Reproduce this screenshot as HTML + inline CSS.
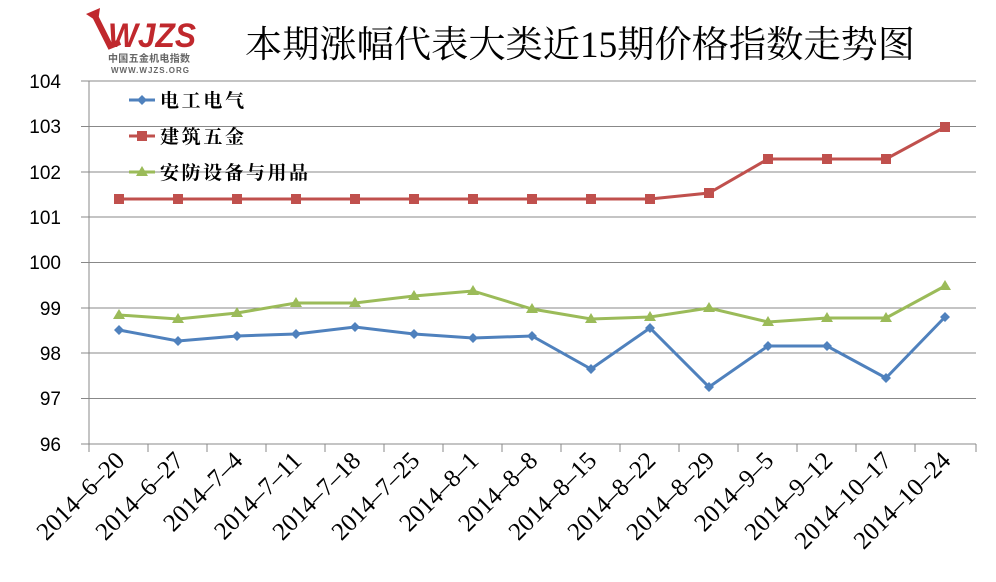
<!DOCTYPE html><html><head><meta charset="utf-8"><style>body{margin:0;background:#fff}svg{display:block}</style></head><body>
<svg width="996" height="582" xmlns="http://www.w3.org/2000/svg">
<rect width="996" height="582" fill="#fff"/>
<!-- logo -->
<path d="M86 14 L100 8 L98 22 Z" fill="#c0282d"/>
<path d="M95 16 L110 46 L120 42" stroke="#c0282d" stroke-width="6" fill="none"/>
<text x="108" y="47" font-family="Liberation Sans, sans-serif" font-size="34" font-weight="bold" font-style="italic" fill="#c0282d" textLength="88" lengthAdjust="spacingAndGlyphs">WJZS</text>
<text x="108" y="62" font-family="Liberation Sans, Noto Sans CJK SC, sans-serif" font-size="10" font-weight="bold" fill="#666" textLength="82">中国五金机电指数</text>
<text x="111" y="73" font-family="Liberation Sans, sans-serif" font-size="8" font-weight="bold" fill="#666" textLength="78">WWW.WJZS.ORG</text>
<text x="245" y="57" font-family="Liberation Serif, Noto Serif CJK SC, serif" font-size="37" fill="#000" textLength="670" lengthAdjust="spacingAndGlyphs">本期涨幅代表大类近15期价格指数走势图</text>
<!-- grid -->
<g stroke="#888" stroke-width="1">
<line x1="81" y1="81" x2="976" y2="81"/><line x1="81" y1="126.5" x2="976" y2="126.5"/><line x1="81" y1="172" x2="976" y2="172"/><line x1="81" y1="217" x2="976" y2="217"/><line x1="81" y1="262.5" x2="976" y2="262.5"/><line x1="81" y1="308" x2="976" y2="308"/><line x1="81" y1="353" x2="976" y2="353"/><line x1="81" y1="398.5" x2="976" y2="398.5"/><line x1="81" y1="444" x2="976" y2="444"/>
<line x1="89" y1="81" x2="89" y2="452"/>
<path d="M148 444v8M207 444v8M266 444v8M325 444v8M384 444v8M443 444v8M502 444v8M561 444v8M620 444v8M679 444v8M738 444v8M797 444v8M856 444v8M915 444v8M976 444v8"/>
</g>
<g font-family="Liberation Sans, sans-serif" font-size="19" fill="#000" text-anchor="end">
<text x="61" y="88">104</text><text x="61" y="133">103</text><text x="61" y="179">102</text><text x="61" y="224">101</text><text x="61" y="269">100</text><text x="61" y="315">99</text><text x="61" y="360">98</text><text x="61" y="405">97</text><text x="61" y="451">96</text>
</g>
<g font-family="Liberation Serif, serif" font-size="25" fill="#000" text-anchor="end">
<text transform="translate(126,462) rotate(-45)">2014–6–20</text>
<text transform="translate(185,462) rotate(-45)">2014–6–27</text>
<text transform="translate(244,462) rotate(-45)">2014–7–4</text>
<text transform="translate(303,462) rotate(-45)">2014–7–11</text>
<text transform="translate(362,462) rotate(-45)">2014–7–18</text>
<text transform="translate(421,462) rotate(-45)">2014–7–25</text>
<text transform="translate(480,462) rotate(-45)">2014–8–1</text>
<text transform="translate(539,462) rotate(-45)">2014–8–8</text>
<text transform="translate(598,462) rotate(-45)">2014–8–15</text>
<text transform="translate(657,462) rotate(-45)">2014–8–22</text>
<text transform="translate(716,462) rotate(-45)">2014–8–29</text>
<text transform="translate(775,462) rotate(-45)">2014–9–5</text>
<text transform="translate(834,462) rotate(-45)">2014–9–12</text>
<text transform="translate(893,462) rotate(-45)">2014–10–17</text>
<text transform="translate(952,462) rotate(-45)">2014–10–24</text>
</g>
<!-- series -->
<polyline fill="none" stroke="#c0504d" stroke-width="3" points="119,199 178,199 237,199 296,199 355,199 414,199 473,199 532,199 591,199 650,199 709,193 768,159 827,159 886,159 945,127"/>
<g fill="#c0504d">
<rect x="114" y="194" width="10" height="10"/><rect x="173" y="194" width="10" height="10"/><rect x="232" y="194" width="10" height="10"/><rect x="291" y="194" width="10" height="10"/><rect x="350" y="194" width="10" height="10"/><rect x="409" y="194" width="10" height="10"/><rect x="468" y="194" width="10" height="10"/><rect x="527" y="194" width="10" height="10"/><rect x="586" y="194" width="10" height="10"/><rect x="645" y="194" width="10" height="10"/><rect x="704" y="188" width="10" height="10"/><rect x="763" y="154" width="10" height="10"/><rect x="822" y="154" width="10" height="10"/><rect x="881" y="154" width="10" height="10"/><rect x="940" y="122" width="10" height="10"/>
</g>
<polyline fill="none" stroke="#9bbb59" stroke-width="3" points="119,315 178,319 237,313 296,303 355,303 414,296 473,291 532,309 591,319 650,317 709,308 768,322 827,318 886,318 945,286"/>
<g fill="#9bbb59">
<path d="M119,309l6,10h-12z M178,313l6,10h-12z M237,307l6,10h-12z M296,297l6,10h-12z M355,297l6,10h-12z M414,290l6,10h-12z M473,285l6,10h-12z M532,303l6,10h-12z M591,313l6,10h-12z M650,311l6,10h-12z M709,302l6,10h-12z M768,316l6,10h-12z M827,312l6,10h-12z M886,312l6,10h-12z M945,280l6,10h-12z"/>
</g>
<polyline fill="none" stroke="#4f81bd" stroke-width="3" points="119,330 178,341 237,336 296,334 355,327 414,334 473,338 532,336 591,369 650,328 709,387 768,346 827,346 886,378 945,317"/>
<g fill="#4f81bd">
<path d="M119,325l5,5l-5,5l-5,-5z M178,336l5,5l-5,5l-5,-5z M237,331l5,5l-5,5l-5,-5z M296,329l5,5l-5,5l-5,-5z M355,322l5,5l-5,5l-5,-5z M414,329l5,5l-5,5l-5,-5z M473,333l5,5l-5,5l-5,-5z M532,331l5,5l-5,5l-5,-5z M591,364l5,5l-5,5l-5,-5z M650,323l5,5l-5,5l-5,-5z M709,382l5,5l-5,5l-5,-5z M768,341l5,5l-5,5l-5,-5z M827,341l5,5l-5,5l-5,-5z M886,373l5,5l-5,5l-5,-5z M945,312l5,5l-5,5l-5,-5z"/>
</g>
<!-- legend -->
<line x1="129" y1="100" x2="155" y2="100" stroke="#4f81bd" stroke-width="3"/><path d="M142,95l5,5l-5,5l-5,-5z" fill="#4f81bd"/>
<line x1="129" y1="136" x2="155" y2="136" stroke="#c0504d" stroke-width="3"/><rect x="137" y="131" width="10" height="10" fill="#c0504d"/>
<line x1="129" y1="172" x2="155" y2="172" stroke="#9bbb59" stroke-width="3"/><path d="M142,166l6,10h-12z" fill="#9bbb59"/>
<g font-family="Liberation Serif, Noto Serif CJK SC, serif" font-size="19" font-weight="bold" fill="#000">
<text x="160" y="107" textLength="84">电工电气</text><text x="160" y="143" textLength="84">建筑五金</text><text x="160" y="179" textLength="148">安防设备与用品</text>
</g>
</svg></body></html>
